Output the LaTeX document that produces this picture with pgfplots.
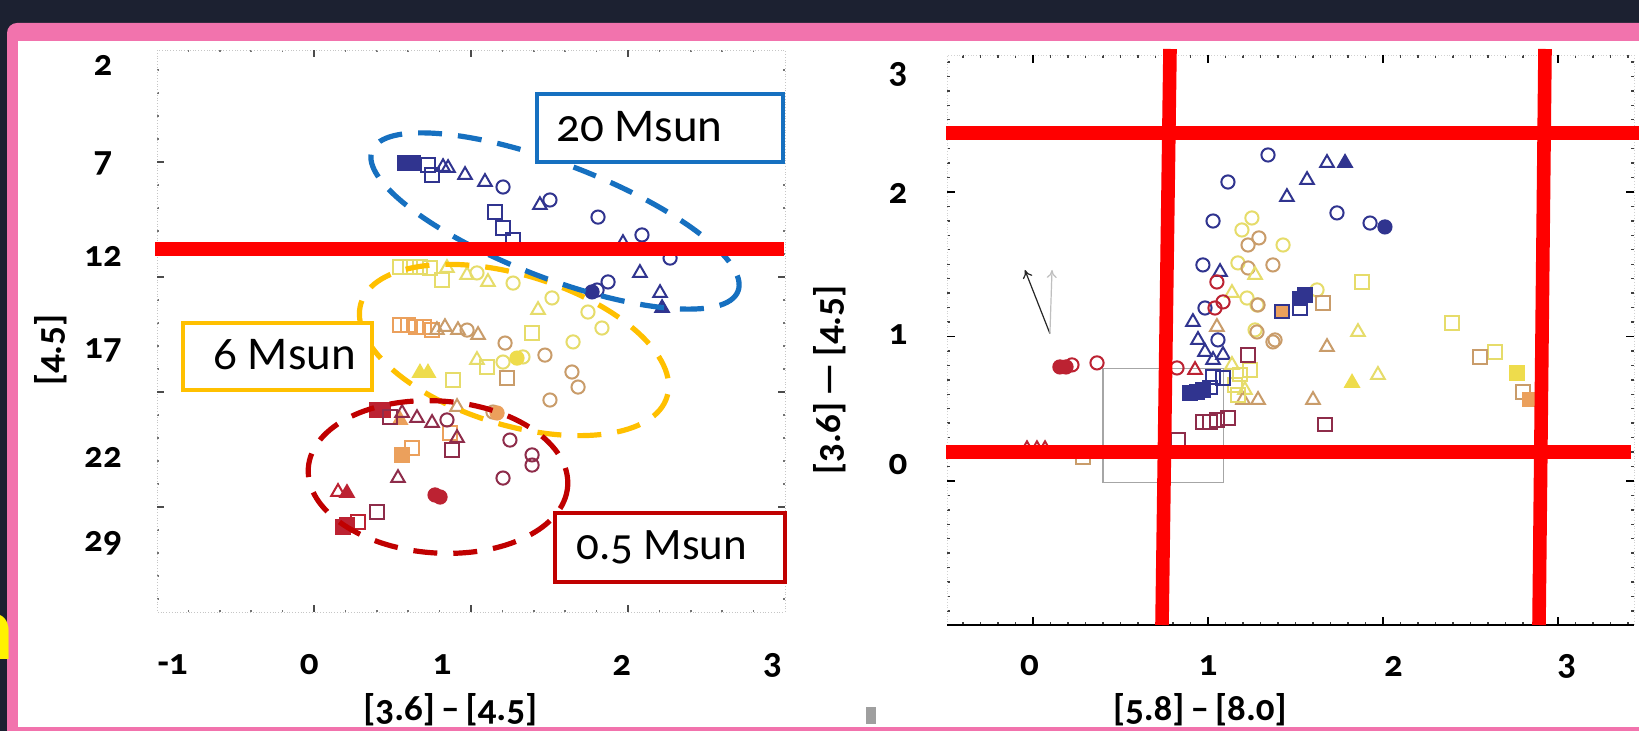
\documentclass[border=0pt]{standalone}
\usepackage{pgfplots}
\pgfplotsset{compat=1.18}
\usepackage{fontspec}
\setmainfont{Carlito}[Numbers=OldStyle]
\usetikzlibrary{arrows.meta}
\definecolor{bgnavy}{HTML}{1C2131}
\definecolor{pinkf}{HTML}{F273AD}
\definecolor{navyM}{HTML}{30348F}
\definecolor{yelM}{HTML}{E6DC6A}
\definecolor{yelF}{HTML}{EEDC4C}
\definecolor{tanM}{HTML}{C99C6A}
\definecolor{oraM}{HTML}{EBA05C}
\definecolor{redM}{HTML}{BC2232}
\definecolor{marM}{HTML}{8E2C4A}
\definecolor{ellBlue}{HTML}{1670C0}
\definecolor{ellYel}{HTML}{FFC000}
\definecolor{ellRed}{HTML}{C00000}
\pgfplotsset{
  mk/.style={only marks, mark size=3.3pt, mark options={line width=1pt, solid}},
  osq/.style={mk, mark=square, color=#1},
  fsq/.style={mk, mark=square*, color=#1},
  otr/.style={mk, mark=triangle, mark size=3.9pt, color=#1},
  ftr/.style={mk, mark=triangle*, mark size=3.9pt, color=#1},
  oci/.style={mk, mark=o, color=#1},
  fci/.style={mk, mark=*, color=#1},
}
\begin{document}
\begin{tikzpicture}[x=0.5pt,y=-0.5pt]
\useasboundingbox (0,0) rectangle (1639,731);
\fill[bgnavy] (0,0) rectangle (1639,731);
\fill[pinkf, rounded corners=5pt] (7,23) rectangle (1700,760);
\fill[white] (18,41) rectangle (1639,727);
\fill[gray!75] (866,707) rectangle (876,724);
\node[anchor=base east, text=yellow, inner sep=0pt, font=\fontsize{46}{46}\selectfont\bfseries] at (14,660) {n};

% ---------------- left panel ----------------
\begin{axis}[
  at={(78.5pt,-25pt)}, anchor=north west, scale only axis,
  width=314pt, height=281pt,
  xmin=-1, xmax=3, ymin=1.202, ymax=31.096, y dir=reverse,
  axis line style={draw=gray!45, densely dotted},
  xtick={-0.90,-0.03,0.815,1.96,2.92}, xticklabels={-1,0,1,2,3},
  ytick={2,7.21,12.21,17.16,22.85,27.43}, yticklabels={2,7,12,17,22,29},
  major tick length=0pt,
  extra x ticks={0,1,2}, extra x tick labels={},
  extra y ticks={7.16,13.28,19.39,25.51}, extra y tick labels={},
  extra tick style={major tick length=3.5pt, tick style={draw=black!70, line width=0.8pt}},
  minor xtick={-0.8,-0.6,-0.4,-0.2,0.2,0.4,0.6,0.8,1.2,1.4,1.6,1.8,2.2,2.4,2.6,2.8},
  minor ytick={2.27,3.49,4.71,5.94,8.38,9.61,10.83,12.05,14.50,15.72,16.95,18.17,20.62,21.84,23.06,24.29,26.73,27.96,29.18,30.40},
  minor tick length=1pt,
  minor tick style={draw=black!55, line width=0.8pt},
  tick align=inside,
  tick label style={font=\fontsize{18.5}{18.5}\selectfont\bfseries, text=black},
  xticklabel style={anchor=center, yshift=-26.5pt},
  yticklabel style={anchor=center, xshift=-27pt},
  xlabel={[3.6]\,–\,[4.5]}, ylabel={[4.5]},
  label style={font=\fontsize{18.5}{18.5}\selectfont\bfseries},
  xlabel style={at={(axis description cs:0.467,-0.174)}, anchor=center},
  ylabel style={at={(axis description cs:-0.170,0.466)}, anchor=center},
  clip=false,
]
% navy
\addplot[fsq=navyM] coordinates {(0.580,7.21) (0.631,7.21)};
\addplot[osq=navyM] coordinates {(0.726,7.32) (0.752,7.85) (1.153,9.82) (1.204,10.67) (1.268,11.31)};
\addplot[otr=navyM] coordinates {(0.822,7.43) (0.854,7.48) (0.962,7.85) (1.089,8.22) (1.439,9.45) (1.968,11.47) (2.076,13.06) (2.204,14.13)};
\addplot[ftr=navyM] coordinates {(2.217,14.93)};
\addplot[oci=navyM] coordinates {(1.204,8.49) (1.503,9.18) (1.809,10.09) (2.089,11.04) (2.268,12.27) (1.873,13.54) (1.803,13.97)};
\addplot[fci=navyM] coordinates {(1.771,14.07)};
% yellow
\addplot[osq=yelM] coordinates {(0.548,12.74) (0.612,12.74) (0.675,12.74) (0.739,12.80) (0.815,13.44) (0.885,18.76) (1.102,18.06) (1.389,16.26)};
\addplot[otr=yelM] coordinates {(0.847,12.80) (0.975,13.17) (1.108,13.54) (1.427,15.03) (1.038,17.69)};
\addplot[ftr=yelF] coordinates {(0.675,18.38) (0.726,18.38)};
\addplot[oci=yelM] coordinates {(1.038,13.06) (1.268,13.60) (1.516,14.39) (1.745,15.14) (1.834,15.99) (1.650,16.73) (1.331,17.53) (1.204,17.80)};
\addplot[fci=yelF] coordinates {(1.293,17.59)};
% orange / tan
\addplot[osq=oraM] coordinates {(0.548,15.83) (0.599,15.83) (0.650,15.94) (0.701,15.94) (0.752,16.10) (0.866,21.57) (0.624,22.37)};
\addplot[otr=tanM] coordinates {(0.783,16.10) (0.834,15.94) (0.917,16.10) (1.045,16.36) (0.911,20.19)};
\addplot[oci=tanM] coordinates {(0.975,16.10) (1.217,16.79) (1.471,17.43) (1.643,18.33) (1.682,19.13) (1.503,19.82) (1.140,20.46)};
\addplot[osq=tanM] coordinates {(1.229,18.65)};
\addplot[fci=oraM] coordinates {(1.166,20.51)};
\addplot[fsq=oraM] coordinates {(0.561,22.74)};
\addplot[ftr=oraM] coordinates {(0.548,20.88)};
% red / maroon
\addplot[fsq=redM] coordinates {(0.401,20.35) (0.439,20.35) (0.210,26.47) (0.185,26.57)};
\addplot[osq=marM] coordinates {(0.484,20.72) (0.879,22.48) (0.401,25.78)};
\addplot[osq=redM] coordinates {(0.280,26.31)};
\addplot[otr=marM] coordinates {(0.561,20.51) (0.656,20.78) (0.752,21.04) (0.911,21.84) (0.535,23.97)};
\addplot[otr=redM] coordinates {(0.153,24.71)};
\addplot[ftr=redM] coordinates {(0.210,24.77)};
\addplot[oci=marM] coordinates {(0.847,20.88) (1.248,21.95) (1.389,22.74) (1.389,23.28) (1.204,23.97)};
\addplot[fci=redM] coordinates {(0.771,24.87) (0.803,24.98)};
\end{axis}

% ---------------- right panel ----------------
\begin{axis}[
  at={(473.5pt,-27.5pt)}, anchor=north west, scale only axis,
  width=343.5pt, height=285pt,
  xmin=-0.491, xmax=3.434, ymin=-0.997, ymax=2.948,
  axis line style={draw=gray!35, densely dotted},
  xtick={-0.02,1.0,2.06,3.05}, xticklabels={0,1,2,3},
  ytick={0.11,1.01,1.99,2.81}, yticklabels={0,1,2,3},
  major tick length=0pt,
  extra x ticks={0,1,2,3}, extra x tick labels={},
  extra y ticks={-1,0,1,2}, extra y tick labels={},
  extra tick style={major tick length=4pt, tick style={draw=black, line width=0.7pt}},
  minor xtick={-0.4,-0.3,...,3.4},
  minor ytick={-0.9,-0.8,...,2.9},
  minor tick length=1.3pt,
  minor tick style={draw=black!75, line width=0.7pt},
  tick align=inside,
  tick label style={font=\fontsize{18.5}{18.5}\selectfont\bfseries, text=black},
  xticklabel style={anchor=center, yshift=-20.5pt},
  yticklabel style={anchor=center, xshift=-24.5pt},
  xlabel={[5.8]\,–\,[8.0]}, ylabel={[3.6]\,—\,[4.5]},
  label style={font=\fontsize{18.5}{18.5}\selectfont\bfseries},
  xlabel style={at={(axis description cs:0.368,-0.149)}, anchor=center},
  ylabel style={at={(axis description cs:-0.170,0.430)}, anchor=center},
  clip=false,
]
\draw[black, line width=0.8pt] (rel axis cs:0,0) -- (rel axis cs:1,0);
\draw[gray!70, line width=0.7pt] (axis cs:0.40,-0.01) rectangle (axis cs:1.09,0.78);
\draw[-{To[length=4pt,width=5pt]}, black!85, line width=0.6pt] (axis cs:0.097,1.02) -- (axis cs:-0.046,1.46);
\draw[-{To[length=4pt,width=5pt]}, gray!50, line width=0.6pt] (axis cs:0.097,1.02) -- (axis cs:0.109,1.46);
% navy
\addplot[oci=navyM] coordinates {(1.343,2.256) (1.114,2.069) (1.029,1.799) (1.737,1.855) (1.926,1.785) (0.971,1.495) (0.983,1.197) (1.057,0.976)};
\addplot[fci=navyM] coordinates {(2.011,1.758)};
\addplot[otr=navyM] coordinates {(1.680,2.201) (1.566,2.083) (1.451,1.965) (1.069,1.446) (0.914,1.100) (0.943,0.976) (0.983,0.893) (1.029,0.837) (1.086,0.872)};
\addplot[ftr=navyM] coordinates {(1.783,2.201)};
% yellow / tan
\addplot[oci=yelM] coordinates {(1.251,1.820) (1.194,1.737) (1.429,1.633) (1.171,1.509) (1.223,1.266) (1.269,1.045) (1.280,1.218) (1.623,1.322)};
\addplot[oci=tanM] coordinates {(1.229,1.633) (1.291,1.682) (1.229,1.474) (1.371,1.495) (1.286,1.218) (1.383,0.976) (1.280,1.031) (1.371,0.962)};
\addplot[otr=yelM] coordinates {(1.269,1.426) (1.137,1.301) (1.857,1.031) (1.971,0.734) (1.137,0.803) (1.211,0.630)};
\addplot[ftr=yelF] coordinates {(1.823,0.678)};
\addplot[otr=tanM] coordinates {(1.051,1.066) (1.680,0.927) (1.600,0.561) (1.200,0.561) (1.286,0.561)};
\addplot[osq=yelM] coordinates {(1.880,1.377) (2.394,1.093) (2.640,0.893) (1.183,0.734) (1.154,0.664) (1.240,0.768) (1.171,0.595)};
\addplot[osq=tanM] coordinates {(1.657,1.232) (2.554,0.858) (2.800,0.616) (0.286,0.166)};
\addplot[fsq=yelF] coordinates {(2.766,0.747)};
\addplot[fsq=oraM] coordinates {(2.840,0.561)};
% navy squares
\addplot[fsq=navyM] coordinates {(0.897,0.609) (0.937,0.616) (0.971,0.630) (1.554,1.287) (1.526,1.260)};
\addplot[osq=navyM] coordinates {(1.011,0.644) (1.029,0.720) (1.086,0.713) (1.526,1.197)};
\addplot[only marks, mark=square*, mark size=3.3pt, mark options={draw=navyM, fill=oraM, line width=1pt}] coordinates {(1.423,1.170)};
% red / maroon
\addplot[oci=redM] coordinates {(1.051,1.377) (1.086,1.239) (1.040,1.197) (0.223,0.803) (0.366,0.817) (0.823,0.782)};
\addplot[fci=redM] coordinates {(0.154,0.789) (0.189,0.789)};
\addplot[otr=redM] coordinates {(0.926,0.768) (-0.034,0.22) (0.023,0.22) (0.069,0.22)};
\addplot[osq=marM] coordinates {(0.971,0.408) (1.011,0.408) (1.051,0.422) (1.114,0.436) (1.229,0.872) (1.669,0.388) (0.829,0.284)};
\end{axis}

% ---------------- ellipses and boxes (left) ----------------
\begin{scope}[line width=2.6pt, dash pattern=on 12pt off 8pt]
\draw[ellYel, rotate around={-17:(514,350)}] (514,350) ellipse [x radius=160, y radius=75];
\draw[ellRed, rotate around={-4:(438,477)}] (438,477) ellipse [x radius=130, y radius=76];
\draw[ellBlue, rotate around={-21:(555,221)}] (555,221) ellipse [x radius=196, y radius=57];
\end{scope}
\draw[ellBlue, line width=2pt, fill=white] (537,94) rectangle (783,162);
\node[anchor=base west, inner sep=0pt, font=\fontsize{23.5}{23.5}\selectfont] at (556,142) {20 Msun};
\draw[ellYel, line width=2pt, fill=white] (183,323) rectangle (372,390);
\node[anchor=base west, inner sep=0pt, font=\fontsize{23.5}{23.5}\selectfont] at (213,370) {6 Msun};
\draw[ellRed, line width=2pt, fill=white] (555,513) rectangle (785,582);
\node[anchor=base west, inner sep=0pt, font=\fontsize{22.5}{22.5}\selectfont] at (576,560) {0.5 Msun};

% ---------------- red overlay lines ----------------
\begin{scope}[red, line width=6.8pt]
\draw (155,249) -- (784,249);
\draw (946,133) -- (1639,133);
\draw (946,452) -- (1631,452);
\draw (1170,49) -- (1162,625);
\draw (1545,49) -- (1539,625);
\end{scope}
\end{tikzpicture}
\end{document}
